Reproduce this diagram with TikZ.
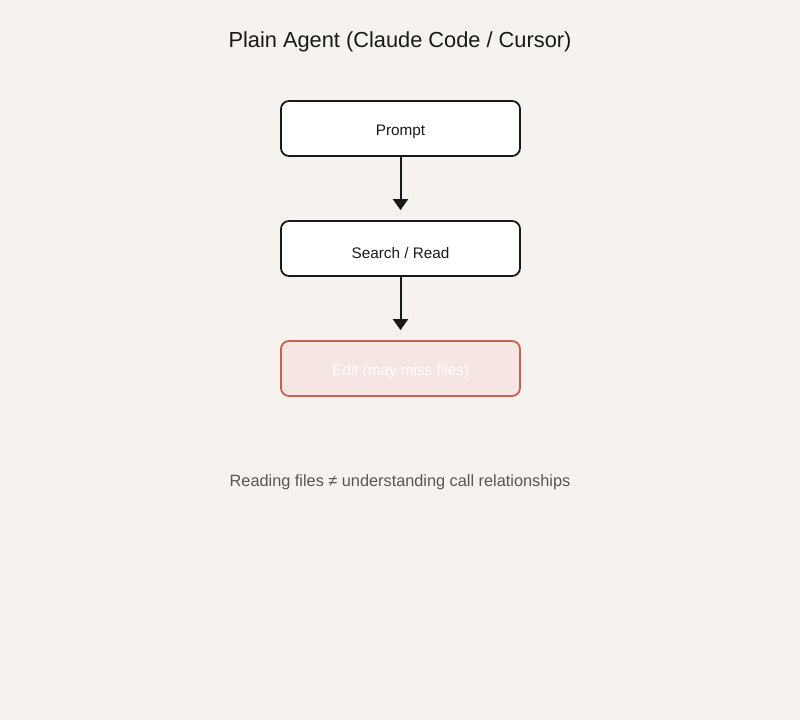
\documentclass[tikz,border=0pt]{standalone}
\usepackage{fontspec}
\setmainfont{Liberation Sans}
\usetikzlibrary{arrows.meta}
\definecolor{bg}{HTML}{F6F3EF}
\definecolor{redline}{HTML}{C85F4F}
\definecolor{redfill}{HTML}{F5E6E4}
\definecolor{note}{HTML}{5A5550}
\begin{document}
\begin{tikzpicture}[x=1pt,y=-1pt,
  stepbox/.style={draw=black!90,line width=1.8pt,rounded corners=8pt,fill=white,minimum width=239pt,minimum height=55pt},
  warnbox/.style={stepbox,draw=redline,fill=redfill},
  lbl/.style={font=\fontsize{15.3}{18}\selectfont,text=black!90},
  conn/.style={-{Triangle[length=11pt,width=15pt]},line width=2pt,draw=black!90,shorten >=10pt}]
\fill[bg] (0,0) rectangle (800,720);
\useasboundingbox (0,0) rectangle (800,720);
\node[font=\fontsize{21.8}{26}\selectfont,text=black!90] (title) at (400,42) {Plain Agent (Claude Code / Cursor)};
\node[stepbox] (p) at (400.5,128.5) {};
\node[stepbox] (s) at (400.5,248.5) {};
\node[warnbox] (e) at (400.5,368.5) {};
\node[lbl] (pt) at (400.5,132) {Prompt};
\node[lbl] (st) at (400.5,253) {Search / Read};
\node[lbl,text=white] (et) at (400.5,372) {Edit (may miss files)};
\draw[conn] (p) -- (s);
\draw[conn] (s) -- (e);
\node[font=\fontsize{16.3}{19}\selectfont,text=note] (n) at (400,482) {Reading files ≠ understanding call relationships};
\end{tikzpicture}
\end{document}
